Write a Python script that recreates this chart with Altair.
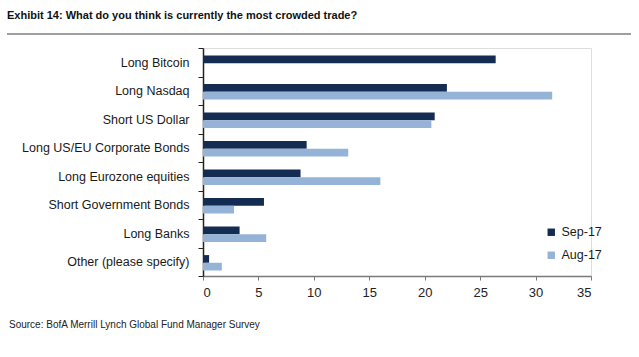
import altair as alt
import pandas as pd

categories = ["Long Bitcoin", "Long Nasdaq", "Short US Dollar", "Long US/EU Corporate Bonds",
              "Long Eurozone equities", "Short Government Bonds", "Long Banks", "Other (please specify)"]
sep17 = [26.4, 22.0, 20.9, 9.35, 8.8, 5.5, 3.3, 0.55]
aug17 = [None, 31.5, 20.6, 13.1, 16.0, 2.8, 5.7, 1.7]
series = ["Sep-17", "Aug-17"]
colors = ["#142B52", "#95B3D7"]

rows = []
for c, s, a in zip(categories, sep17, aug17):
    rows.append({"cat": c, "series": "Sep-17", "value": s})
    if a is not None:
        rows.append({"cat": c, "series": "Aug-17", "value": a})
df = pd.DataFrame(rows)

FONT = "Liberation Sans, Arial, sans-serif"
W, H = 388, 228

bars = alt.Chart(df).mark_bar(size=7.7).encode(
    x=alt.X("value:Q", scale=alt.Scale(domain=[0, 35], nice=False),
            axis=alt.Axis(values=[0, 5, 10, 15, 20, 25, 30, 35], title=None, grid=False,
                          domainColor="#7a7a7a", tickColor="#7a7a7a", tickSize=4,
                          labelFont=FONT, labelFontSize=13, labelColor="#222222",
                          labelPadding=6, domainWidth=1.5)),
    y=alt.Y("cat:N", sort=categories,
            scale=alt.Scale(paddingInner=0, paddingOuter=0),
            axis=alt.Axis(title=None, tickBand="extent", domainColor="#222222", tickColor="#222222",
                          tickSize=5, labelFont=FONT, labelFontSize=12.5, labelColor="#1a1a1a",
                          labelPadding=9, domainWidth=1.5, labelLimit=300)),
    yOffset=alt.YOffset("series:N", sort=series,
                        scale=alt.Scale(paddingInner=0, paddingOuter=0.85, align=0.58)),
    color=alt.Color("series:N", sort=series,
                    scale=alt.Scale(domain=series, range=colors),
                    legend=alt.Legend(title=None, orient="none", legendX=342, legendY=178,
                                      symbolType="square", symbolSize=55, symbolStrokeWidth=0,
                                      labelFont=FONT, labelFontSize=12.5, labelColor="#1a1a1a",
                                      rowPadding=10, labelOffset=4)),
)

title_txt = alt.Chart(pd.DataFrame({"t": ["Exhibit 14: What do you think is currently the most crowded trade?"]})).mark_text(
    align="left", baseline="alphabetic", font=FONT, fontSize=11, fontWeight="bold", color="#111111"
).encode(x=alt.value(-196), y=alt.value(-29), text="t:N")

rule = alt.Chart(pd.DataFrame({"a": [0]})).mark_rule(color="#7f7f7f", strokeWidth=1.5).encode(
    x=alt.value(-196), x2=alt.value(428), y=alt.value(-14))

source_txt = alt.Chart(pd.DataFrame({"t": ["Source: BofA Merrill Lynch Global Fund Manager Survey"]})).mark_text(
    align="left", baseline="alphabetic", font=FONT, fontSize=10, color="#222222"
).encode(x=alt.value(-194), y=alt.value(280), text="t:N")

chart = alt.layer(bars, title_txt, rule, source_txt).properties(
    width=W, height=H, autosize=alt.AutoSizeParams(type="none"),
    padding={"left": 203, "top": 48, "right": 48, "bottom": 81}
).configure_view(stroke=None).configure(background="white")

chart.save("out.html", embed_options={"renderer": "svg", "actions": False})
